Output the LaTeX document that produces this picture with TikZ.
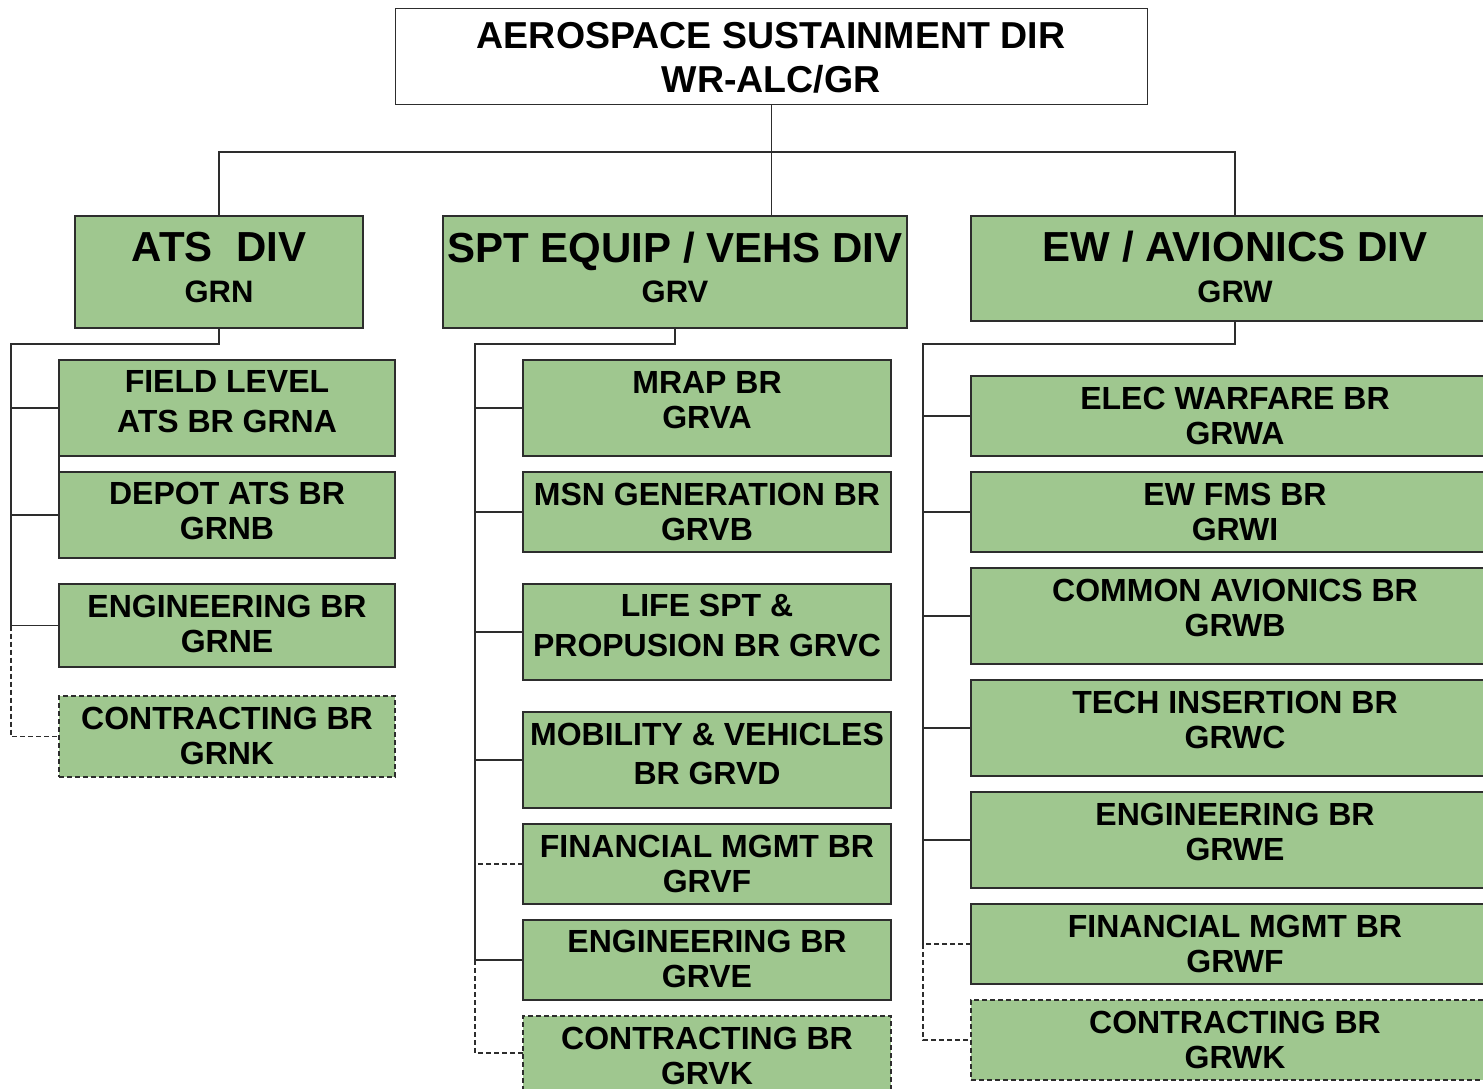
\documentclass[tikz,border=0pt]{standalone}
\usepackage{fontspec}
\setmainfont{Liberation Sans}
\usetikzlibrary{calc}
\definecolor{boxgreen}{RGB}{159,199,143}
\definecolor{edge}{RGB}{45,45,45}
\tikzset{
  box/.style={draw=edge, line width=1.7pt, fill=boxgreen, anchor=north west, inner sep=0pt, outer sep=0pt},
  dbox/.style={box, dash pattern=on 5pt off 3pt},
  lbl/.style={font=\bfseries\fontsize{32}{35}\selectfont, align=center, inner sep=0pt},
  lblw/.style={font=\bfseries\fontsize{32}{39.5}\selectfont, align=center, inner sep=0pt},
  divf/.style={font=\bfseries\fontsize{42}{48}\selectfont, inner sep=0pt},
  codef/.style={font=\bfseries\fontsize{31}{36}\selectfont, inner sep=0pt},
  conn/.style={draw=edge, line width=1.8pt},
  dconn/.style={conn, line width=1.5pt, dash pattern=on 5pt off 3pt},
}
\begin{document}
\begin{tikzpicture}[x=1pt, y=-1pt]
\useasboundingbox (0,0) rectangle (1483,1088);
\fill[white] (0,0) rectangle (1483,1088);

% top
\node[draw=edge, line width=1.2pt, fill=white, anchor=north west, inner sep=0pt, minimum width=752pt, minimum height=96pt] (top) at (395,8) {};
\node[font=\bfseries\fontsize{37.5}{44}\selectfont, align=center, inner sep=0pt] (toptxt) at (771,58) {AEROSPACE SUSTAINMENT DIR\\WR-ALC/GR};

% divisions
\node[box, minimum width=288pt, minimum height=112pt] (ats) at (75,216) {};
\node[box, minimum width=464pt, minimum height=112pt] (spt) at (443,216) {};
\node[box, minimum width=528pt, minimum height=105pt] (ew) at (971,216) {};
\node[divf] (atst) at (219,247) {ATS\ \ DIV};
\node[codef] (atsc) at (219,292) {GRN};
\node[divf, anchor=base] (sptt) at (675,262) {SPT EQUIP / VEHS DIV};
\node[codef] (sptc) at (675,292) {GRV};
\node[divf] (ewt) at (1235,247) {EW / AVIONICS DIV};
\node[codef] (ewc) at (1235,292) {GRW};

% left column
\node[box, minimum width=336pt, minimum height=96pt] (grna) at (59,360) {};
\node[box, minimum width=336pt, minimum height=86pt] (grnb) at (59,472) {};
\node[box, minimum width=336pt, minimum height=83pt] (grne) at (59,584) {};
\node[dbox, minimum width=336pt, minimum height=81pt] (grnk) at (59,696) {};
\node[lblw] (grnat) at (227,401.5) {FIELD LEVEL\\ATS BR GRNA};
\node[lbl] (grnbt) at (227,511) {DEPOT ATS BR\\GRNB};
\node[lbl] (grnet) at (227,623.5) {ENGINEERING BR\\GRNE};
\node[lbl] (grnkt) at (227,735.5) {CONTRACTING BR\\GRNK};

% middle column
\node[box, minimum width=368pt, minimum height=96pt] (grva) at (523,360) {};
\node[box, minimum width=368pt, minimum height=80pt] (grvb) at (523,472) {};
\node[box, minimum width=368pt, minimum height=96pt] (grvc) at (523,584) {};
\node[box, minimum width=368pt, minimum height=96pt] (grvd) at (523,712) {};
\node[box, minimum width=368pt, minimum height=80pt] (grvf) at (523,824) {};
\node[box, minimum width=368pt, minimum height=80pt] (grve) at (523,920) {};
\node[dbox, minimum width=368pt, minimum height=74pt] (grvk) at (523,1016) {};
\node[lbl] (grvat) at (707,400) {MRAP BR\\GRVA};
\node[lbl] (grvbt) at (707,511.5) {MSN GENERATION BR\\GRVB};
\node[lblw] (grvct) at (707,625.5) {LIFE SPT \&\\PROPUSION BR GRVC};
\node[lblw] (grvdt) at (707,754) {MOBILITY \& VEHICLES\\BR GRVD};
\node[lbl] (grvft) at (707,863.5) {FINANCIAL MGMT BR\\GRVF};
\node[lbl] (grvet) at (707,959) {ENGINEERING BR\\GRVE};
\node[lbl] (grvkt) at (707,1055.5) {CONTRACTING BR\\GRVK};

% right column
\node[box, minimum width=528pt, minimum height=80pt] (grwa) at (971,376) {};
\node[box, minimum width=528pt, minimum height=80pt] (grwi) at (971,472) {};
\node[box, minimum width=528pt, minimum height=96pt] (grwb) at (971,568) {};
\node[box, minimum width=528pt, minimum height=96pt] (grwc) at (971,680) {};
\node[box, minimum width=528pt, minimum height=96pt] (grwe) at (971,792) {};
\node[box, minimum width=528pt, minimum height=80pt] (grwf) at (971,904) {};
\node[dbox, minimum width=528pt, minimum height=80pt] (grwk) at (971,1000) {};
\node[lbl] (grwat) at (1235,415.5) {ELEC WARFARE BR\\GRWA};
\node[lbl] (grwit) at (1235,511.5) {EW FMS BR\\GRWI};
\node[lbl] (grwbt) at (1235,608) {COMMON AVIONICS BR\\GRWB};
\node[lbl] (grwct) at (1235,720) {TECH INSERTION BR\\GRWC};
\node[lbl] (grwet) at (1235,831.5) {ENGINEERING BR\\GRWE};
\node[lbl] (grwft) at (1235,943.5) {FINANCIAL MGMT BR\\GRWF};
\node[lbl] (grwkt) at (1235,1040) {CONTRACTING BR\\GRWK};

% top connectors
\coordinate (bus) at (771,152);
\draw[conn, line width=1.3pt] (top.south) -- (top.south |- spt.north);
\draw[conn] (ats.north) |- (bus) -| (ew.north);

% left connectors
\coordinate (ls) at (11,344);
\draw[conn] (ats.south) |- (ls) -- (ls |- grne.west);
\draw[conn] (ls |- grna.west) -- (grna.west);
\draw[conn] (ls |- grnb.west) -- (grnb.west);
\draw[conn] (ls |- grne.west) -- (grne.west);
\draw[conn, line width=1.3pt] (grna.south west) -- (grnb.north west);
\draw[dconn] (ls |- grne.west) -- (ls |- grnk.west) -- (grnk.west);

% middle connectors
\coordinate (ms) at (475,344);
\draw[conn] (spt.south) |- (ms) -- (ms |- grve.west);
\draw[conn] (ms |- grva.west) -- (grva.west);
\draw[conn] (ms |- grvb.west) -- (grvb.west);
\draw[conn] (ms |- grvc.west) -- (grvc.west);
\draw[conn] (ms |- grvd.west) -- (grvd.west);
\draw[conn] (ms |- grve.west) -- (grve.west);
\draw[dconn] (grvf.west) -- (ms |- grvf.west);
\draw[dconn] (ms |- grve.west) -- (ms |- grvk.west) -- (grvk.west);

% right connectors
\coordinate (rs) at (923,344);
\draw[conn] (ew.south) |- (rs) -- (rs |- grwf.west);
\draw[conn] (rs |- grwa.west) -- (grwa.west);
\draw[conn] (rs |- grwi.west) -- (grwi.west);
\draw[conn] (rs |- grwb.west) -- (grwb.west);
\draw[conn] (rs |- grwc.west) -- (grwc.west);
\draw[conn] (rs |- grwe.west) -- (grwe.west);
\draw[dconn] (grwf.west) -- (rs |- grwf.west) -- (rs |- grwk.west) -- (grwk.west);
\end{tikzpicture}
\end{document}
